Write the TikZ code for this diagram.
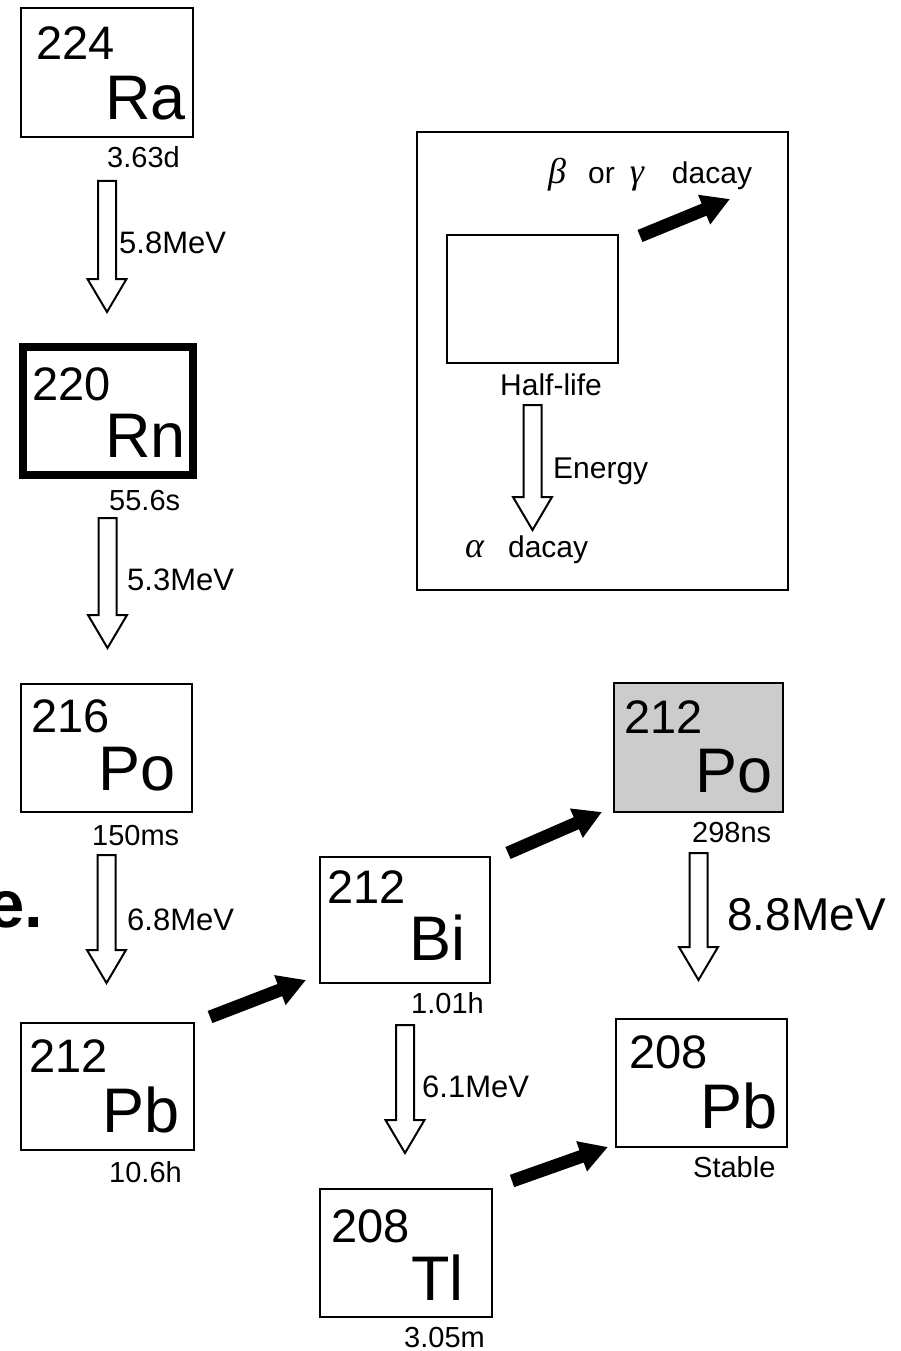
\documentclass[tikz,border=0pt]{standalone}
\usepackage{fontspec}
\setmainfont{Liberation Sans}
\newfontfamily\grk{Liberation Serif}
\newcommand{\gk}[1]{{\fontsize{36}{36}\selectfont\grk\itshape #1}}
\usetikzlibrary{calc,arrows.meta}
\newcommand{\hollowarr}[2]{%
  \draw[hol] let \p1=(#1), \p2=(#2) in
    (\x1-9pt,\y1) -- (\x1+9pt,\y1) -- (\x1+9pt,\y2+33pt) -- (\x1+19.5pt,\y2+33pt)
    -- (\x1,\y2) -- (\x1-19.5pt,\y2+33pt) -- (\x1-9pt,\y2+33pt) -- cycle;}
\tikzset{
  box/.style={draw, line width=2pt, inner sep=0pt, outer sep=0pt},
  num/.style={anchor=base west, inner sep=0pt, font=\fontsize{47}{47}\selectfont},
  sym/.style={anchor=base west, inner sep=0pt, font=\fontsize{63}{63}\selectfont},
  hl/.style={anchor=base west, inner sep=0pt, font=\fontsize{29}{29}\selectfont},
  en/.style={anchor=base west, inner sep=0pt, font=\fontsize{31}{31}\selectfont},
  leg/.style={anchor=base west, inner sep=0pt, font=\fontsize{30}{30}\selectfont},
  hol/.style={draw, line width=2pt, fill=white, line join=miter},
  blk/.style={line width=13pt, -{Triangle[length=28pt,width=30pt]}},
}
\begin{document}
\begin{tikzpicture}[x=1pt,y=-1pt]
\useasboundingbox (0,0) rectangle (901,1351);
% stray text
\node[anchor=base west, inner sep=0pt, font=\fontsize{67}{67}\selectfont\bfseries] (estr) at (-13,927) {e.};
% boxes
\node[box, minimum width=172pt, minimum height=129pt] (ra) at (107,72.5) {};
\node[box, line width=8pt, minimum width=170pt, minimum height=128pt] (rn) at (107.5,411) {};
\node[box, minimum width=171pt, minimum height=128pt] (poA) at (106.5,748) {};
\node[box, minimum width=173pt, minimum height=127pt] (pbA) at (107.5,1086.5) {};
\node[box, minimum width=170pt, minimum height=126pt] (bi) at (405,920) {};
\node[box, minimum width=172pt, minimum height=128pt] (tl) at (406,1253) {};
\node[box, fill=gray!40, minimum width=169pt, minimum height=129pt] (poB) at (698.5,747.5) {};
\node[box, minimum width=171pt, minimum height=128pt] (pbB) at (701.5,1083) {};
% numbers and symbols
\node[num] (ra-n) at (36,60) {224};
\node[sym] (ra-s) at (105,120) {Ra};
\node[num] (rn-n) at (32,400) {220};
\node[sym] (rn-s) at (105,457) {Rn};
\node[num] (poA-n) at (31,732) {216};
\node[sym] (poA-s) at (98,790) {Po};
\node[num] (pbA-n) at (29,1072) {212};
\node[sym] (pbA-s) at (102,1132) {Pb};
\node[num] (bi-n) at (327,903) {212};
\node[sym] (bi-s) at (409,960) {Bi};
\node[num] (tl-n) at (331,1242) {208};
\node[sym] (tl-s) at (411,1300) {Tl};
\node[num] (poB-n) at (624,733) {212};
\node[sym] (poB-s) at (695,792) {Po};
\node[num] (pbB-n) at (629,1068) {208};
\node[sym] (pbB-s) at (700,1128) {Pb};
% half-lives
\node[hl] (ra-t) at (107,168) {3.63d};
\node[hl] (rn-t) at (109,510) {55.6s};
\node[hl] (poA-t) at (92,845) {150ms};
\node[hl] (pbA-t) at (109,1182) {10.6h};
\node[hl] (bi-t) at (411,1013) {1.01h};
\node[hl] (tl-t) at (404,1347) {3.05m};
\node[hl] (poB-t) at (692,842) {298ns};
\node[hl] (pbB-t) at (693,1177) {Stable};
% energies
\node[en] (e1) at (119,253) {5.8MeV};
\node[en] (e2) at (127,590) {5.3MeV};
\node[en] (e3) at (127,930) {6.8MeV};
\node[en] (e4) at (422,1097) {6.1MeV};
\node[anchor=base west, inner sep=0pt, font=\fontsize{46}{46}\selectfont] (e5) at (727,930) {8.8MeV};
% alpha arrows
\hollowarr{[yshift=-44pt]ra.south}{[yshift=35pt]rn.north}
\hollowarr{[yshift=-43pt]rn.south}{[yshift=36pt]poA.north}
\hollowarr{[yshift=-43pt]poA.south}{[yshift=40pt]pbA.north}
\hollowarr{[yshift=-42pt]bi.south}{[yshift=36pt]tl.north}
\hollowarr{[yshift=-41pt]poB.south}{[yshift=39pt]pbB.north}
% beta arrows
\draw[blk] ([shift={(16,-6)}]pbA.north east) -- ([shift={(-14,-3)}]bi.south west);
\draw[blk] ([shift={(18,-4)}]bi.north east) -- ([shift={(-12,0)}]poB.south west);
\draw[blk] ([shift={(20,-8)}]tl.north east) -- ([shift={(-8,0)}]pbB.south west);
% legend
\node[box, minimum width=371pt, minimum height=458pt] (legbox) at (602.5,361) {};
\node[box, minimum width=171pt, minimum height=128pt] (legin) at (532.5,299) {};
\node[leg] (leg-bg) at (548,183) {\gk{β}\hspace{22pt}or\hspace{15pt}\gk{γ}\hspace{28pt}dacay};
\node[leg] (leg-hl) at (500,395) {Half-life};
\node[leg] (leg-en) at (553,478) {Energy};
\node[leg] (leg-a) at (465,557) {\gk{α}\hspace{24pt}dacay};
\coordinate (bgtip) at (730,199);
\coordinate (atip) at (530,530);
\hollowarr{[yshift=-42pt]legin.south}{atip}
\draw[blk] ([shift={(22,1)}]legin.north east) -- (bgtip);
\end{tikzpicture}
\end{document}
